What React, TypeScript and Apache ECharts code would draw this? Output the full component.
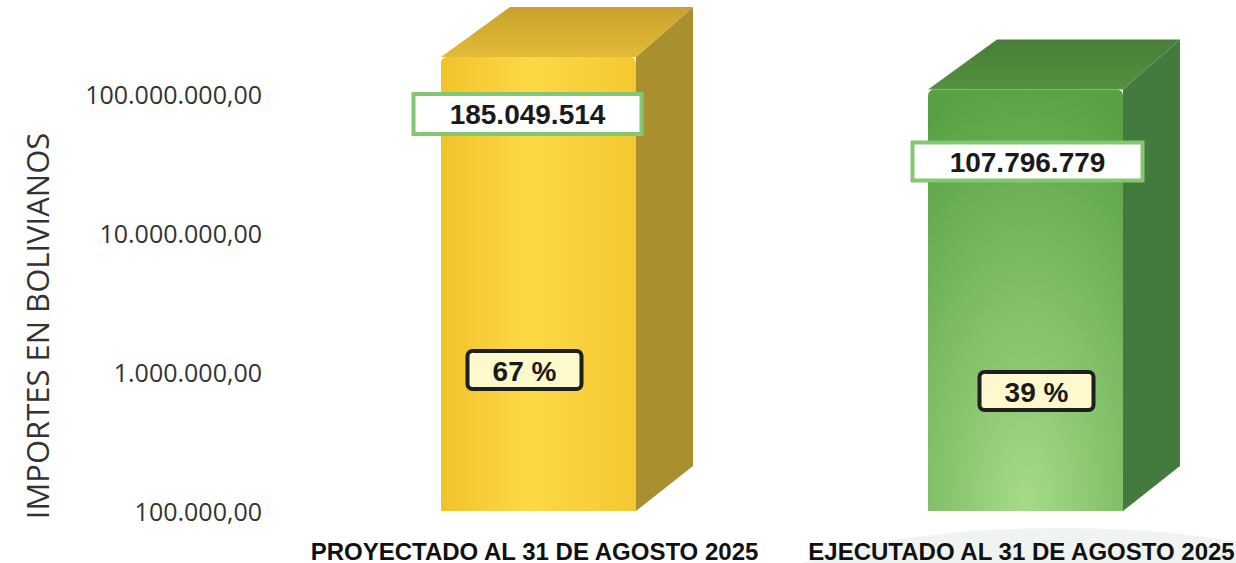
import React, { useEffect, useRef } from 'react';
import * as echarts from 'echarts';

const categories = ['PROYECTADO AL 31 DE AGOSTO 2025', 'EJECUTADO AL 31 DE AGOSTO 2025'];
const amounts = [185049514, 107796779];
const percents = [67, 39];
const axisMin = 100000;
const axisMax = 475000000;
const axisTitle = 'IMPORTES EN BOLIVIANOS';

const palettes = [
  {
    front: { type: 'linear', x: 0, y: 0, x2: 1, y2: 0, colorStops: [
      { offset: 0, color: '#f1c22c' }, { offset: 0.45, color: '#fcd946' }, { offset: 1, color: '#f3c832' }] },
    top: { type: 'linear', x: 0, y: 1, x2: 0, y2: 0, colorStops: [
      { offset: 0, color: '#e2bb36' }, { offset: 1, color: '#c9a22e' }] },
    side: '#a98f2e',
  },
  {
    front: { type: 'radial', x: 0.5, y: 1, r: 1.05, colorStops: [
      { offset: 0, color: '#a6db8a' }, { offset: 1, color: '#58a043' }] },
    top: { type: 'linear', x: 0, y: 1, x2: 0, y2: 0, colorStops: [
      { offset: 0, color: '#53913f' }, { offset: 1, color: '#477f3a' }] },
    side: '#437a3d',
  },
];

const layout = {
  barWidth: 195,
  dxLeft: 69, dxRight: 57, dyTop: 50, dyBottom: 45,
  shift: 4,
  value: [{ dx: -11, dy: 57, w: 228, h: 40 }, { dx: 2, dy: 72, w: 230, h: 38 }],
  pct: [{ dx: -14, dy: -141, w: 114, h: 38 }, { dx: 11, dy: -120, w: 114, h: 38 }],
};

const fmtThousands = (v: number) => Math.round(v).toString().replace(/\B(?=(\d{3})+(?!\d))/g, '.');
const fmtTick = (v: number) => fmtThousands(v) + ',00';
const isDecade = (v: number) => Math.abs(Math.log10(v) - Math.round(Math.log10(v))) < 1e-6;

export default function App() {
  const ref = useRef<HTMLDivElement>(null);
  useEffect(() => {
    if (!ref.current) return;
    const chart = echarts.init(ref.current, undefined, { renderer: 'svg' });
    const numFont = '"Liberation Sans", Arial, sans-serif';
    chart.setOption({
      animation: false,
      backgroundColor: '#ffffff',
      graphic: [
        {
          type: 'ellipse', shape: { cx: 1060, cy: 600, rx: 300, ry: 72 },
          style: { fill: '#eff4f0' }, z: -10,
        },
        {
          type: 'text', x: 37, y: 326, rotation: Math.PI / 2,
          style: { text: axisTitle, fill: '#333333', fontSize: 31, fontFamily: '"Open Sans", sans-serif', align: 'center', verticalAlign: 'middle' },
        },
      ],
      grid: { left: 291, width: 974, top: 0, bottom: 52, containLabel: false, outerBoundsMode: 'none' },
      xAxis: {
        type: 'category', data: categories,
        axisLine: { show: false }, axisTick: { show: false },
        axisLabel: { interval: 0, margin: 28, color: '#111', fontWeight: 'bold', fontSize: 24, fontFamily: numFont },
      },
      yAxis: {
        type: 'log', logBase: 10, min: axisMin, max: axisMax, interval: 1,
        axisLine: { show: false }, axisTick: { show: false }, splitLine: { show: false },
        axisLabel: {
          margin: 29, color: '#333', fontSize: 25, fontFamily: '"Open Sans", sans-serif',
          formatter: (v: number) => (isDecade(v) ? fmtTick(v) : ''),
        },
      },
      series: [{
        type: 'custom',
        data: amounts.map((v, i) => [i, v]),
        encode: { x: 0, y: 1 },
        renderItem: (params: any, api: any) => {
          const i = api.value(0);
          const top = api.coord([i, api.value(1)]);
          const base = api.coord([i, axisMin]);
          const p = palettes[i];
          const w = layout.barWidth;
          const x0 = top[0] + layout.shift - w / 2;
          const x1 = x0 + w;
          const yT = top[1];
          const yB = base[1];
          const vl = layout.value[i];
          const pl = layout.pct[i];
          const cx = top[0] + layout.shift;
          return {
            type: 'group',
            children: [
              { type: 'polygon', shape: { points: [[x1, yT], [x1 + layout.dxRight, yT - layout.dyTop], [x1 + layout.dxRight, yB - layout.dyBottom], [x1, yB]] }, style: { fill: p.side } },
              { type: 'polygon', shape: { points: [[x0, yT], [x0 + layout.dxLeft, yT - layout.dyTop], [x1 + layout.dxRight, yT - layout.dyTop], [x1, yT]] }, style: { fill: p.top } },
              { type: 'rect', shape: { x: x0, y: yT, width: w, height: yB - yT, r: [6, 6, 0, 0] }, style: { fill: p.front } },
              { type: 'rect', shape: { x: cx + vl.dx - vl.w / 2, y: yT + vl.dy - vl.h / 2, width: vl.w, height: vl.h }, style: { fill: '#ffffff', stroke: '#84c773', lineWidth: 4 } },
              { type: 'text', x: cx + vl.dx, y: yT + vl.dy + 1, style: { text: fmtThousands(api.value(1)), fill: '#1a1a1a', fontSize: 28, fontWeight: 'bold', fontFamily: numFont, align: 'center', verticalAlign: 'middle' } },
              { type: 'rect', shape: { x: cx + pl.dx - pl.w / 2, y: yB + pl.dy - pl.h / 2, width: pl.w, height: pl.h, r: 5 }, style: { fill: '#fdf9cc', stroke: '#1f1f1f', lineWidth: 4 } },
              { type: 'text', x: cx + pl.dx, y: yB + pl.dy + 1, style: { text: percents[i] + ' %', fill: '#1a1a1a', fontSize: 28, fontWeight: 'bold', fontFamily: numFont, align: 'center', verticalAlign: 'middle' } },
            ],
          };
        },
      }],
    });
    return () => chart.dispose();
  }, []);
  return <div ref={ref} style={{ position: 'fixed', left: 0, top: 0, width: 1236, height: 563 }} />;
}
